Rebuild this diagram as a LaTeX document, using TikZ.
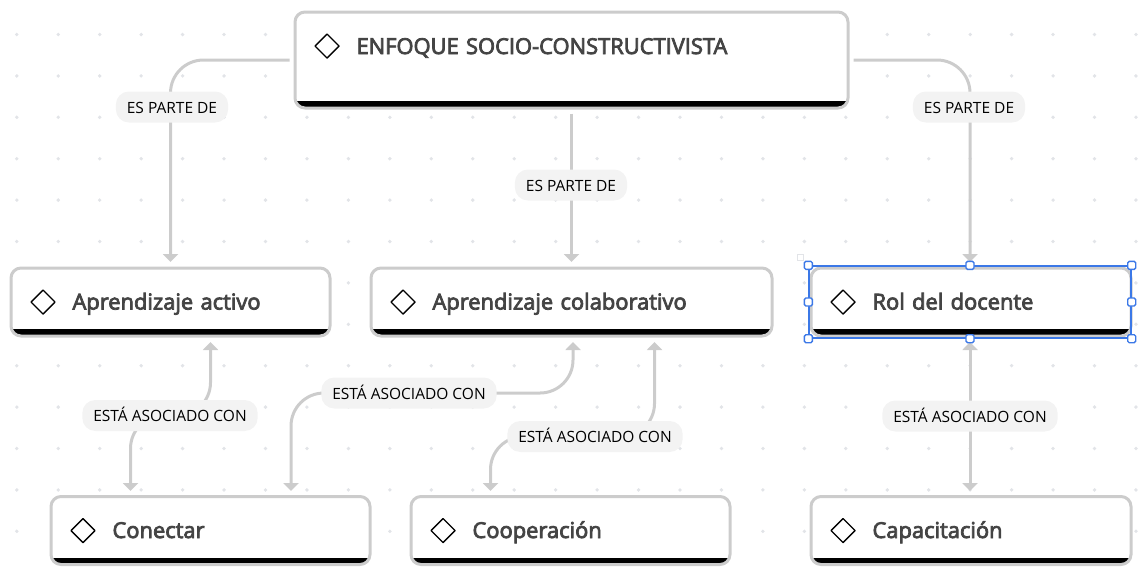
\documentclass[tikz,border=0pt]{standalone}
\usepackage{fontspec}
\setmainfont{Open Sans}
\newfontfamily\titlefont[FakeBold=3.5]{Open Sans}
\usetikzlibrary{arrows.meta}
\definecolor{linegray}{HTML}{CCCCCC}
\definecolor{pillgray}{HTML}{F3F3F3}
\definecolor{dotgray}{HTML}{E2E4E8}
\definecolor{titlegray}{HTML}{444444}
\definecolor{selectblue}{HTML}{3B78E7}
\tikzset{
  conceptbox/.style={draw=linegray, line width=3pt, fill=white, rounded corners=10pt,
    minimum width=#1, minimum height=68pt, inner xsep=2pt, inner ysep=0pt, text width=#1-7pt, align=left,
    text height=21pt, text depth=6pt,
    text=titlegray, font=\titlefont\fontsize{21.9}{24}\selectfont,
    execute at begin node={\hspace*{58pt}},
    path picture={
      \fill [black, sharp corners] ([yshift=7pt]path picture bounding box.south west) rectangle (path picture bounding box.south east);
      \draw [black, line width=1.4pt, sharp corners, line join=round] ([shift={(20,34)}]path picture bounding box.north west) -- ++(12,-12) -- ++(12,12) -- ++(-12,12) -- cycle;
    }},
  link/.style={draw=linegray, line width=3pt, rounded corners=33pt, shorten <=4pt, shorten >=4.5pt, -{Triangle[length=8pt,width=15pt]}},
  twoway/.style={link, {Triangle[length=8pt,width=15pt]}-{Triangle[length=8pt,width=15pt]}},
  pill/.style={fill=pillgray, rounded corners=13pt, minimum height=31pt, inner xsep=11pt, inner ysep=0pt, text height=15pt, text depth=3pt, font=\fontsize{15.5}{17}\selectfont, text=black},
  handle/.style={draw=selectblue, fill=white, line width=1.4pt, rounded corners=1.5pt, minimum size=8pt, inner sep=0pt}
}
\begin{document}
\begin{tikzpicture}[x=1pt, y=-1pt]
\useasboundingbox (0,0) rectangle (1139,566);

% dot grid
\foreach \k in {0,...,27}
  \foreach \j in {0,...,12}
    \fill [dotgray] (16.8+41.45*\k, 34.5+41.4*\j) circle (1.9);

% concepts
\node [conceptbox=553pt, minimum height=96pt, text depth=33pt] (enfoque) at (571.5,60) {ENFOQUE SOCIO-CONSTRUCTIVISTA};
\node [conceptbox=319pt] (activo) at (170.5,302) {Aprendizaje activo};
\node [conceptbox=401pt] (colaborativo) at (571.5,302) {Aprendizaje colaborativo};
\node [conceptbox=320pt] (rol) at (971,302) {Rol del docente};
\node [conceptbox=319pt] (conectar) at (210.5,530.5) {Conectar};
\node [conceptbox=319pt] (cooperacion) at (570.5,530.5) {Cooperación};
\node [conceptbox=320pt] (capacitacion) at (971,530.5) {Capacitación};

% connectors
\coordinate (labelA) at (172,107);
\coordinate (labelB) at (571,185);
\coordinate (labelC) at (969,107);
\draw [link] (enfoque.west) -| (activo.north);
\draw [link] (enfoque.south) -- (colaborativo.north);
\draw [link] (enfoque.east) -| ([xshift=-1pt]rol.north);
\draw [twoway] ([xshift=-80pt]conectar.north) |- (170,415.5) -| ([xshift=40pt]activo.south);
\draw [twoway] ([xshift=80.5pt]conectar.north) |- (409,393) -| ([xshift=1.5pt]colaborativo.south);
\draw [twoway] ([xshift=-80pt]cooperacion.north) |- (595,436.5) -| ([xshift=83pt]colaborativo.south);
\draw [twoway] ([xshift=-1pt]capacitacion.north) -- ([xshift=-1pt]rol.south);

% labels
\node [pill] (parteA) at (labelA) {ES PARTE DE};
\node [pill] (parteB) at (labelB) {ES PARTE DE};
\node [pill] (parteC) at (labelC) {ES PARTE DE};
\node [pill] (asociadoA) at (170,415.5) {ESTÁ ASOCIADO CON};
\node [pill] (asociadoB) at (409,393) {ESTÁ ASOCIADO CON};
\node [pill] (asociadoC) at (595,436.5) {ESTÁ ASOCIADO CON};
\node [pill] (asociadoD) at (970,416) {ESTÁ ASOCIADO CON};

% selection frame
\node [draw=selectblue, line width=1.4pt, minimum width=322pt, minimum height=72pt] (seleccion) at (970,302) {};
\foreach \a in {north west,north,north east,west,east,south west,south,south east}
  \node [handle] at (seleccion.\a) {};
\node [draw=dotgray, line width=0.8pt, minimum size=6pt, inner sep=0pt] (giro) at (800,257) {};
\end{tikzpicture}
\end{document}
